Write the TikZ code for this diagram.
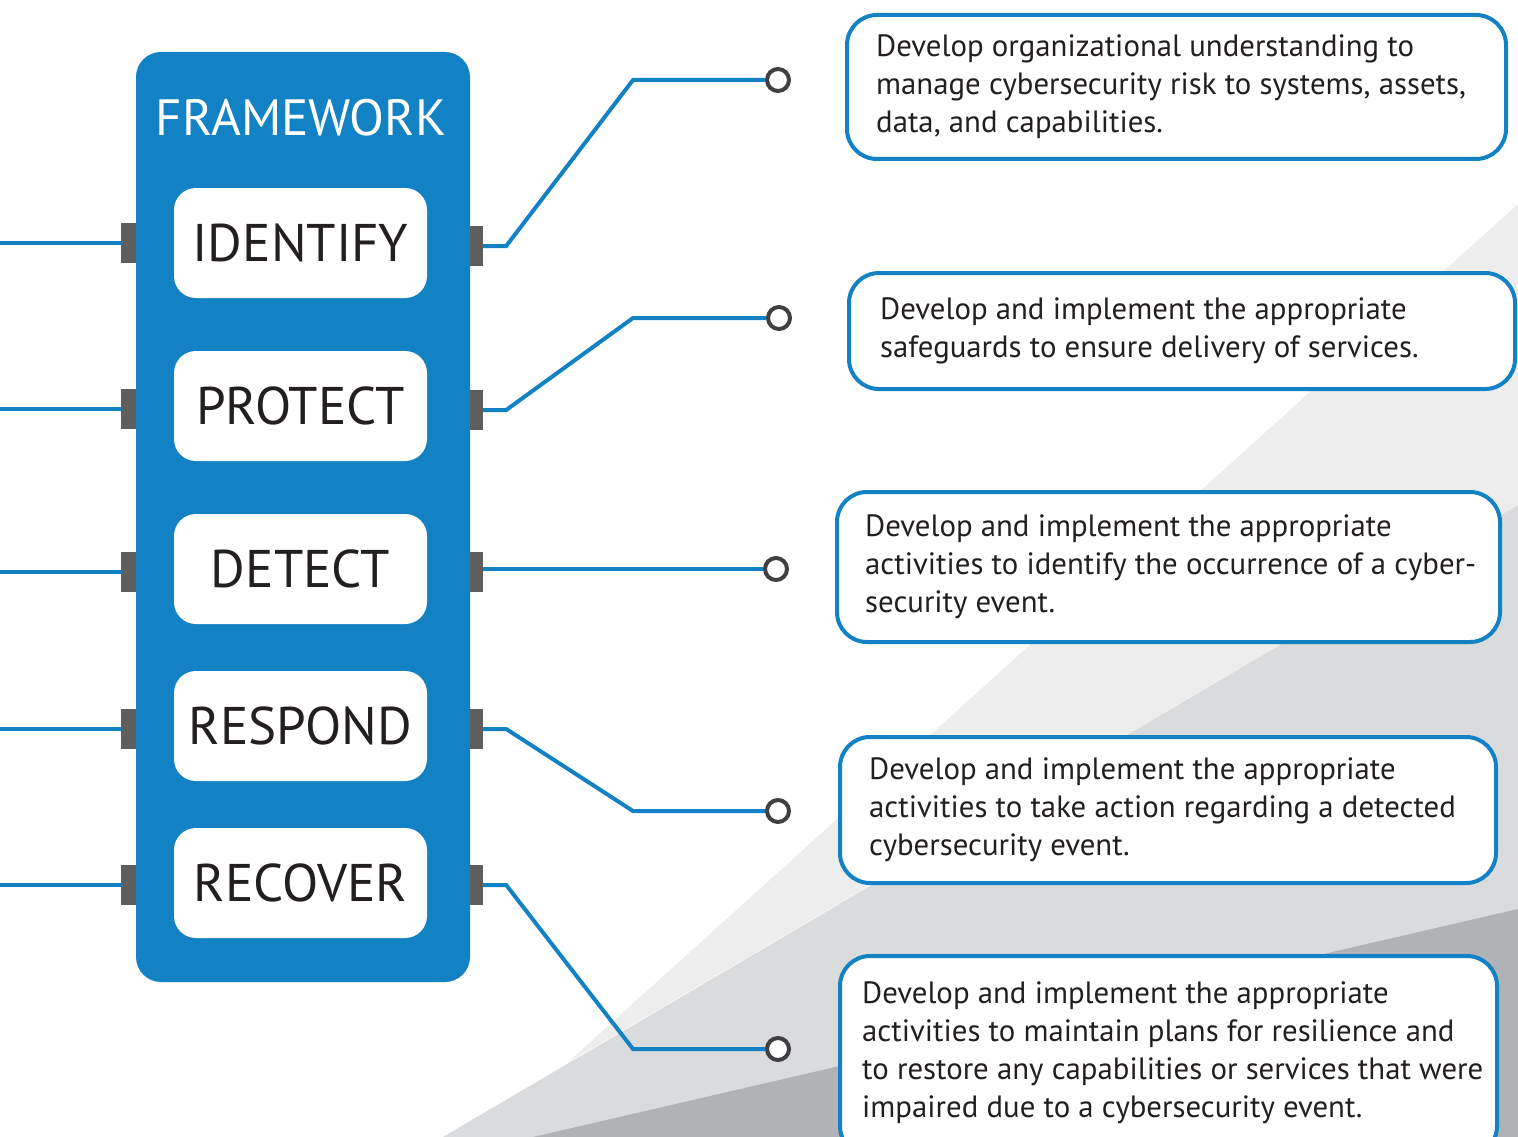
\documentclass[tikz,border=0pt]{standalone}
\usepackage{fontspec}
\setmainfont{PT Sans}
\usepackage{xcolor}
\usetikzlibrary{calc,positioning}

\definecolor{fwblue}{RGB}{19,130,197}
\definecolor{portgray}{RGB}{94,94,94}
\definecolor{ringgray}{RGB}{64,64,66}
\definecolor{inkdark}{RGB}{35,31,32}
\definecolor{bglight}{RGB}{237,237,237}
\definecolor{bgmid}{RGB}{218,219,221}
\definecolor{bgdark}{RGB}{177,178,181}

\begin{document}
\begin{tikzpicture}[
        x=1pt, y=-1pt,
        frame node/.style={rectangle, fill=fwblue, rounded corners=25pt, minimum width=334pt, minimum height=930pt, inner sep=0pt},
        func node/.style={rectangle, fill=white, rounded corners=22pt, minimum width=253pt, minimum height=110pt, inner sep=0pt, text=inkdark, font=\fontsize{53}{53}\selectfont},
        port node/.style={rectangle, fill=portgray, minimum height=40pt, inner sep=0pt},
        end node/.style={circle, draw=ringgray, line width=4pt, fill=white, minimum size=22pt, inner sep=0pt},
        desc box/.style={rectangle, draw=fwblue, line width=4pt, rounded corners=30pt, fill=white, anchor=north west, inner sep=0pt},
        desc text/.style={anchor=west, align=left, inner sep=0pt, text=inkdark, font=\fontsize{30.8}{38}\selectfont},
        wire/.style={draw=fwblue, line width=4pt}
      ]
      \useasboundingbox (0,0) rectangle (1518,1137);

      % Background wedges
      \fill[bglight] (1518,204) -- (567,1063) -- (1518,505) -- cycle;
      \fill[bgmid] (443,1137) -- (1518,505) -- (1518,1137) -- cycle;
      \fill[bgdark] (533,1137) -- (1518,909) -- (1518,1137) -- cycle;

      % Framework column
      \node[frame node] (fw) at (303,517) {};
      \node[text=white, font=\fontsize{51}{51}\selectfont] (title) at (301,118) {FRAMEWORK};

      \node[func node] (f1) at (300.5,243) {IDENTIFY};
      \node[func node] (f2) at (300.5,406) {PROTECT};
      \node[func node] (f3) at (300.5,569) {DETECT};
      \node[func node] (f4) at (300.5,726) {RESPOND};
      \node[func node] (f5) at (300.5,883) {RECOVER};

      % Ports on both sides
      \node[port node, minimum width=15pt] (lp1) at (128.5,243) {};
      \node[port node, minimum width=15pt] (lp2) at (128.5,409) {};
      \node[port node, minimum width=15pt] (lp3) at (128.5,572) {};
      \node[port node, minimum width=15pt] (lp4) at (128.5,729) {};
      \node[port node, minimum width=15pt] (lp5) at (128.5,885) {};

      \node[port node, minimum width=13pt] (rp1) at (476.5,246) {};
      \node[port node, minimum width=13pt] (rp2) at (476.5,410) {};
      \node[port node, minimum width=13pt] (rp3) at (476.5,572) {};
      \node[port node, minimum width=13pt] (rp4) at (476.5,729) {};
      \node[port node, minimum width=13pt] (rp5) at (476.5,885) {};

      % End rings
      \node[end node] (c1) at (778,80) {};
      \node[end node] (c2) at (779,318) {};
      \node[end node] (c3) at (776,569) {};
      \node[end node] (c4) at (778,811) {};
      \node[end node] (c5) at (778,1049) {};

      \coordinate (edge) at (0,0);
      \coordinate (bend) at (633,0);

      % Wires
      \draw[wire] (edge |- lp1) -- (lp1);
      \draw[wire] (edge |- lp2) -- (lp2);
      \draw[wire] (edge |- lp3) -- (lp3);
      \draw[wire] (edge |- lp4) -- (lp4);
      \draw[wire] (edge |- lp5) -- (lp5);

      \draw[wire] (rp1.east) -- ++(23,0) -- (bend |- c1) -- (c1);
      \draw[wire] (rp2.east) -- ++(23,0) -- (bend |- c2) -- (c2);
      \draw[wire] (rp3.east |- c3) -- (c3);
      \draw[wire] (rp4.east) -- ++(23,0) -- (bend |- c4) -- (c4);
      \draw[wire] (rp5.east) -- ++(23,0) -- (bend |- c5) -- (c5);

      % Descriptions
      \node[desc box, minimum width=659pt, minimum height=144pt] (b1) at (845,13) {};
      \node[desc box, minimum width=666pt, minimum height=116pt] (b2) at (847,271) {};
      \node[desc box, minimum width=663pt, minimum height=150pt] (b3) at (835,490) {};
      \node[desc box, minimum width=656pt, minimum height=146pt] (b4) at (838,735) {};
      \node[desc box, minimum width=657pt, minimum height=200pt] (b5) at (838,954) {};

      \node[desc text] (d1) at ([xshift=31pt]b1.west) {Develop organizational understanding to\\manage cybersecurity risk to systems, assets,\\data, and capabilities.};
      \node[desc text] (d2) at ([xshift=33pt]b2.west) {Develop and implement the appropriate\\safeguards to ensure delivery of services.};
      \node[desc text] (d3) at ([xshift=30pt]b3.west) {Develop and implement the appropriate\\activities to identify the occurrence of a cyber-\\security event.};
      \node[desc text] (d4) at ([xshift=31pt]b4.west) {Develop and implement the appropriate\\activities to take action regarding a detected\\cybersecurity event.};
      \node[desc text] (d5) at ([xshift=24pt, yshift=3pt]b5.west) {Develop and implement the appropriate\\activities to maintain plans for resilience and\\to restore any capabilities or services that were\\impaired due to a cybersecurity event.};
    \end{tikzpicture}
\end{document}
